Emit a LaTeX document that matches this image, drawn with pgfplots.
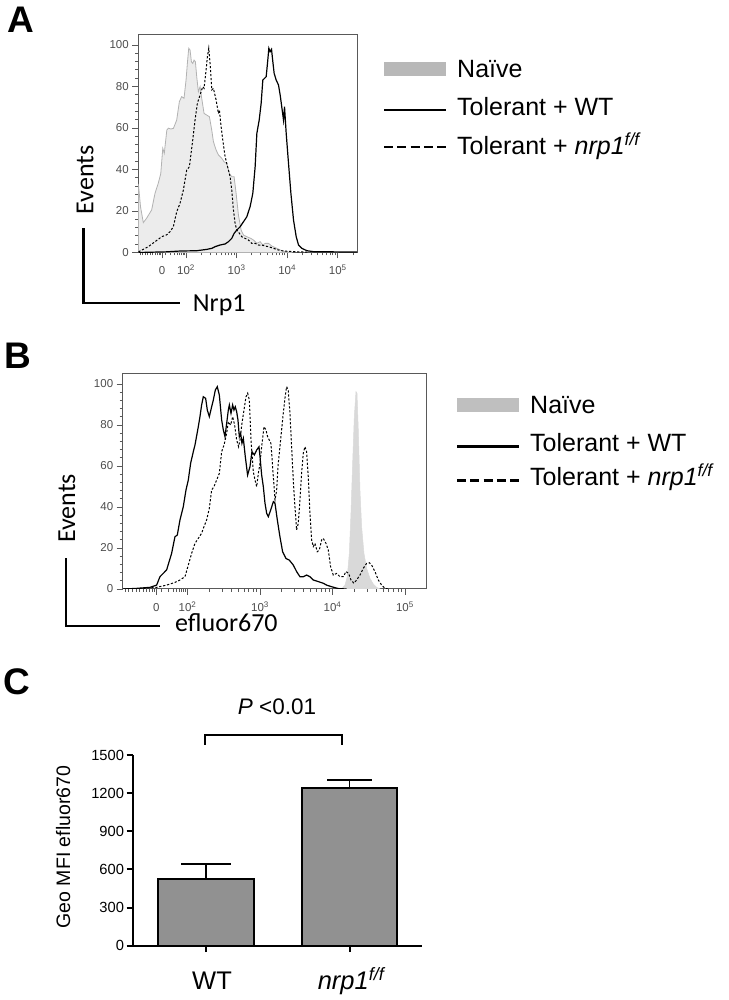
\documentclass[border=0pt]{standalone}
\usepackage{fontspec}
\setmainfont{Liberation Sans}
\newfontfamily\carlito{Carlito}
\usepackage{pgfplots}
\pgfplotsset{compat=1.18}
\newcommand\fs[1]{\fontsize{#1}{#1}\selectfont}
\definecolor{framec}{gray}{0.35}
\definecolor{ticklab}{gray}{0.3}
\definecolor{naiveAfill}{gray}{0.925}
\definecolor{naiveAline}{gray}{0.7}
\definecolor{naiveBfill}{gray}{0.85}
\definecolor{legA}{gray}{0.72}
\definecolor{legB}{gray}{0.75}
\definecolor{barg}{gray}{0.57}
\pgfplotsset{
  flowaxis/.style={
    scale only axis, anchor=north west,
    ymin=0,
    axis line style={draw=framec, line width=1pt},
    xtick pos=bottom, ytick pos=left,
    tick align=outside,
    major tick length=6pt, minor tick length=3pt,
    tick style={draw=framec, line width=0.8pt},
    ytick={0,20,...,100}, minor y tick num=4,
    ticklabel style={font=\fs{11.5}, text=ticklab},
    /pgf/number format/assume math mode=true,
    xticklabels={0,10\textsuperscript{2},10\textsuperscript{3},10\textsuperscript{4},10\textsuperscript{5}},
    xticklabel style={anchor=base, yshift=-16.5pt, inner sep=0pt},
  }
}
\begin{document}
\begin{tikzpicture}
\path[use as bounding box] (0pt,0pt) rectangle (728pt,1000pt);

% ---------------- Panel labels
\node[anchor=base west, inner sep=0, font=\fs{37}\bfseries] at (7pt,967pt) {A};
\node[anchor=base west, inner sep=0, font=\fs{37}\bfseries] at (4.5pt,631pt) {B};
\node[anchor=base west, inner sep=0, font=\fs{37}\bfseries] at (3.5pt,305pt) {C};

% ---------------- Panel A
\begin{axis}[flowaxis,
  at={(138.3pt,965pt)}, width=218.7pt, height=217.5pt,
  xmin=1.056, xmax=5.38, ymax=104.8,
  xtick={1.525,2,3,4,5},
  minor xtick={1.09,1.14,1.19,1.24,1.29,1.34,1.39,1.43,1.47,1.5,
    1.6,1.7,1.77,1.83,1.87,1.91,1.94,1.97,
    2.301,2.477,2.602,2.699,2.778,2.845,2.903,2.954,
    3.301,3.477,3.602,3.699,3.778,3.845,3.903,3.954,
    4.301,4.477,4.602,4.699,4.778,4.845,4.903,4.954,5.301},
]
\addplot[fill=naiveAfill, draw=naiveAline, line width=0.8pt] table {
u y
1.056 0
1.058 33
1.10 22
1.155 14.4
1.22 16.5
1.32 20.5
1.386 28.5
1.45 33.3
1.5 38
1.54 50.2
1.57 47.8
1.62 59
1.65 59.9
1.70 59.5
1.75 59.8
1.815 63.8
1.868 72.7
1.914 75.1
1.96 74.3
2.0 83.1
2.026 91.1
2.053 98.4
2.079 97.6
2.106 91.9
2.132 91.1
2.158 92.7
2.185 91.9
2.211 84.7
2.244 77.5
2.277 79.9
2.31 74.3
2.356 67.0
2.41 66.2
2.462 65.4
2.508 59.0
2.541 53.4
2.594 49.4
2.64 47.0
2.706 45.4
2.752 43.7
2.805 42.9
2.858 38.1
2.904 36.5
2.95 36.5
2.99 28.5
3.036 18.0
3.089 10.8
3.135 8.4
3.201 7.6
3.28 6.8
3.333 6.0
3.4 4.4
3.465 5.2
3.518 3.6
3.564 4.4
3.63 4.4
3.696 3.1
3.795 2.0
3.861 1.2
3.96 0.4
4.1 0
} \closedcycle;
\addplot[black, line width=1.2pt] table {
u y
1.06 0
1.6 0.3
1.881 0.7
2.211 0.85
2.41 1.5
2.508 2.0
2.574 2.8
2.673 3.6
2.772 4.1
2.838 5.2
2.904 6.8
2.95 9.2
3.003 10.8
3.069 12.4
3.135 14.8
3.201 17.2
3.267 22.1
3.32 28.5
3.366 41.3
3.4 57.4
3.446 63.8
3.485 71.9
3.518 83.1
3.551 83.9
3.584 84.7
3.61 91.1
3.637 98.4
3.663 96.8
3.69 97.9
3.716 91.9
3.742 86.3
3.782 83.1
3.828 80.7
3.861 75.9
3.901 68.6
3.927 63.8
3.947 70.3
3.98 57.4
4.026 42.9
4.073 28.5
4.125 15.6
4.178 7.6
4.224 3.6
4.29 2.0
4.39 0.85
4.52 0.4
5.38 0.2
};
\addplot[black, line width=1pt, dash pattern=on 2.2pt off 1.8pt] table {
u y
1.06 0.3
1.09 0.7
1.253 2.8
1.386 5.2
1.52 7.6
1.617 8.5
1.683 10.0
1.749 12.4
1.815 19.6
1.881 23.7
1.947 30.1
2.013 39.7
2.066 41.3
2.132 54.2
2.178 63.8
2.224 71.9
2.277 75.9
2.33 79.9
2.356 79.1
2.396 87.9
2.422 94.3
2.449 98.4
2.475 91.1
2.508 78.3
2.541 79.1
2.594 73.5
2.64 67.0
2.66 68.6
2.686 62.2
2.726 54.2
2.772 46.2
2.805 42.9
2.838 39.7
2.871 36.5
2.904 30.1
2.937 20.5
2.97 14.0
3.003 10.8
3.056 9.2
3.102 7.6
3.168 6.8
3.234 6.0
3.3 4.4
3.366 4.4
3.432 3.6
3.498 3.6
3.564 3.1
3.63 2.8
3.729 2.0
3.828 1.2
3.927 0.7
4.125 0.4
4.4 0.2
};
\end{axis}

% A side labels
\node[rotate=90, anchor=base, font=\carlito\fs{26}] at (93.3pt,820pt) {Events};
\draw[line width=2.3pt] (83.5pt,771.7pt) -- (83.5pt,696.7pt) -- (180pt,696.7pt);
\node[anchor=base west, inner sep=0, font=\carlito\fs{26}] at (192.7pt,688.3pt) {Nrp1};

% A legend
\fill[legA] (384pt,924pt) rectangle (446pt,938pt);
\draw[line width=2.8pt] (384pt,890pt) -- (446pt,890pt);
\draw[line width=2.8pt, dash pattern=on 9pt off 4.25pt] (384pt,853pt) -- (446pt,853pt);
\node[anchor=base west, inner sep=0, font=\fs{25}] at (457pt,922.7pt) {Naïve};
\node[anchor=base west, inner sep=0, font=\fs{25}] at (457pt,884.3pt) {Tolerant + WT};
\node[anchor=base west, inner sep=0, font=\fs{25}] at (457pt,845.7pt) {Tolerant + \textit{nrp1\textsuperscript{f/f}}};

% ---------------- Panel B
\begin{axis}[flowaxis,
  at={(122.7pt,626pt)}, width=303.3pt, height=215pt,
  xmin=1.106, xmax=5.29, ymax=104.9,
  xtick={1.57,2,3,4,5},
  minor xtick={1.14,1.19,1.24,1.29,1.34,1.39,1.43,1.47,1.51,1.54,
    1.64,1.73,1.8,1.85,1.89,1.92,1.95,1.975,
    2.301,2.477,2.602,2.699,2.778,2.845,2.903,2.954,
    3.301,3.477,3.602,3.699,3.778,3.845,3.903,3.954,
    4.301,4.477,4.602,4.699,4.778,4.845,4.903,4.954},
]
\addplot[fill=naiveBfill, draw=naiveBfill, line width=0.5pt] table {
u y
4.126 0
4.172 1.9
4.204 6.0
4.232 17.4
4.255 36.9
4.278 61.3
4.301 84.1
4.324 96.3
4.338 95.5
4.356 77.6
4.379 48.3
4.402 30.4
4.434 17.4
4.471 10.1
4.517 5.2
4.563 2.4
4.609 0.8
4.655 0
} \closedcycle;
\addplot[black, line width=1.2pt] table {
u y
1.115 0
1.298 0.3
1.482 0.8
1.574 1.9
1.62 6.0
1.712 9.3
1.781 17.4
1.827 25.5
1.859 26.3
1.896 33.7
1.942 40.2
1.979 48.3
2.011 53.2
2.043 61.3
2.08 67.0
2.103 70.2
2.149 79.2
2.172 84.1
2.195 89.8
2.218 93.8
2.25 93.0
2.273 87.3
2.301 84.1
2.333 88.9
2.356 92.2
2.384 97.1
2.411 98.7
2.439 94.6
2.471 82.5
2.494 77.6
2.517 74.3
2.54 80.8
2.563 87.3
2.577 89.8
2.6 85.7
2.623 89.8
2.641 87.3
2.659 88.9
2.678 86.5
2.696 82.5
2.715 74.3
2.733 75.9
2.751 71.1
2.77 73.5
2.797 64.6
2.829 55.6
2.862 59.7
2.889 67.0
2.922 65.4
2.954 67.8
2.986 69.4
3.0 64.6
3.023 55.6
3.046 49.9
3.069 41.8
3.092 36.9
3.115 35.3
3.147 38.5
3.184 42.6
3.207 41.8
3.239 33.7
3.275 25.5
3.312 18.2
3.358 14.9
3.404 14.1
3.459 11.7
3.505 8.5
3.551 6.0
3.597 6.0
3.643 6.8
3.689 6.0
3.735 4.4
3.804 3.6
3.873 2.8
3.919 1.9
3.988 1.1
4.08 0.2
4.195 0
};
\addplot[black, line width=1pt, dash pattern=on 2.2pt off 1.8pt] table {
u y
1.115 0
1.39 0.3
1.574 0.8
1.712 1.9
1.827 3.2
1.896 4.4
1.965 6.0
2.011 11.7
2.057 17.4
2.103 22.3
2.149 24.7
2.195 27.2
2.227 30.4
2.264 33.7
2.301 39.4
2.333 48.3
2.365 49.9
2.402 53.2
2.439 56.4
2.471 67.0
2.503 70.2
2.54 75.9
2.563 81.6
2.595 80.0
2.623 84.1
2.65 80.0
2.678 72.7
2.705 69.4
2.724 72.7
2.751 80.8
2.779 87.3
2.807 93.8
2.83 95.5
2.853 92.2
2.876 72.7
2.908 57.2
2.931 53.2
2.954 49.9
2.977 56.4
3.0 61.3
3.023 69.4
3.055 79.2
3.082 77.6
3.105 74.3
3.128 72.7
3.151 71.1
3.174 59.7
3.207 43.4
3.23 48.3
3.252 61.3
3.275 69.4
3.298 77.6
3.321 85.7
3.344 93.0
3.367 98.7
3.39 97.1
3.413 85.7
3.436 69.4
3.459 53.2
3.482 40.2
3.505 28.8
3.528 32.0
3.551 43.4
3.574 56.4
3.597 66.2
3.62 69.4
3.643 67.0
3.666 54.8
3.689 36.9
3.712 23.9
3.735 20.7
3.758 22.3
3.79 18.2
3.818 19.0
3.85 23.9
3.873 24.7
3.91 22.3
3.942 19.0
3.974 10.9
4.011 6.8
4.057 7.6
4.103 6.0
4.149 6.0
4.186 8.5
4.223 7.6
4.255 4.4
4.296 2.8
4.333 4.4
4.379 6.8
4.425 10.1
4.471 12.5
4.508 12.8
4.54 11.7
4.586 8.5
4.632 4.4
4.678 1.9
4.724 0.3
4.77 0
};
\end{axis}

% B side labels
\node[rotate=90, anchor=base, font=\carlito\fs{26}] at (75pt,491.7pt) {Events};
\draw[line width=2.3pt] (65.7pt,441.7pt) -- (65.7pt,374.3pt) -- (160pt,374.3pt);
\node[anchor=base west, inner sep=0, font=\carlito\fs{26}] at (175pt,368.3pt) {efluor670};

% B legend
\fill[legB] (457pt,588pt) rectangle (519pt,602pt);
\draw[line width=2.8pt] (457pt,553.3pt) -- (519pt,553.3pt);
\draw[line width=2.8pt, dash pattern=on 9pt off 4.25pt] (457pt,519.5pt) -- (519pt,519.5pt);
\node[anchor=base west, inner sep=0, font=\fs{25}] at (530pt,586.7pt) {Naïve};
\node[anchor=base west, inner sep=0, font=\fs{25}] at (530pt,548.3pt) {Tolerant + WT};
\node[anchor=base west, inner sep=0, font=\fs{25}] at (530pt,514.5pt) {Tolerant + \textit{nrp1\textsuperscript{f/f}}};

% ---------------- Panel C
\begin{axis}[
  at={(133pt,54.3pt)}, anchor=south west, scale only axis,
  width=289pt, height=190.7pt,
  xmin=-0.509, xmax=1.505, ymin=0, ymax=1500,
  axis x line=bottom, axis y line=left,
  axis line style={line width=2pt, -},
  xtick={0,1}, xticklabels={},
  ytick={0,300,...,1500},
  tick align=outside, major tick length=6.5pt,
  tick style={line width=2pt, black},
  yticklabel style={font=\fs{14.7}, xshift=1pt},
  /pgf/number format/assume math mode=true,
  /pgf/number format/1000 sep={},
  clip=false,
]
\addplot[ybar, bar width=96pt, bar shift=0pt, fill=barg, draw=black, line width=1.8pt,
  error bars/.cd, y dir=plus, y explicit, error mark=|,
  error mark options={mark size=25pt, line width=1.8pt, black},
  error bar style={line width=1.8pt, black}]
  coordinates {(0,525) +- (0,118)};
\addplot[ybar, bar width=95pt, bar shift=0pt, fill=barg, draw=black, line width=1.8pt,
  error bars/.cd, y dir=plus, y explicit, error mark=|,
  error mark options={mark size=22.5pt, line width=1.8pt, black},
  error bar style={line width=1.8pt, black}]
  coordinates {(1,1243) +- (0,60)};
\end{axis}
\node[rotate=90, anchor=base, font=\fs{19.5}] at (70pt,153pt) {Geo MFI efluor670};
\node[anchor=base, font=\fs{25.5}] at (212pt,10pt) {WT};
\node[anchor=base, font=\fs{25.5}] at (351pt,10pt) {\textit{nrp1\textsuperscript{f/f}}};
\draw[line width=1.3pt] (205pt,255pt) -- (205pt,265pt) -- (342pt,265pt) -- (342pt,255pt);
\node[anchor=base, font=\fs{22.5}] at (277pt,285pt) {\textit{P} <0.01};
\end{tikzpicture}
\end{document}
